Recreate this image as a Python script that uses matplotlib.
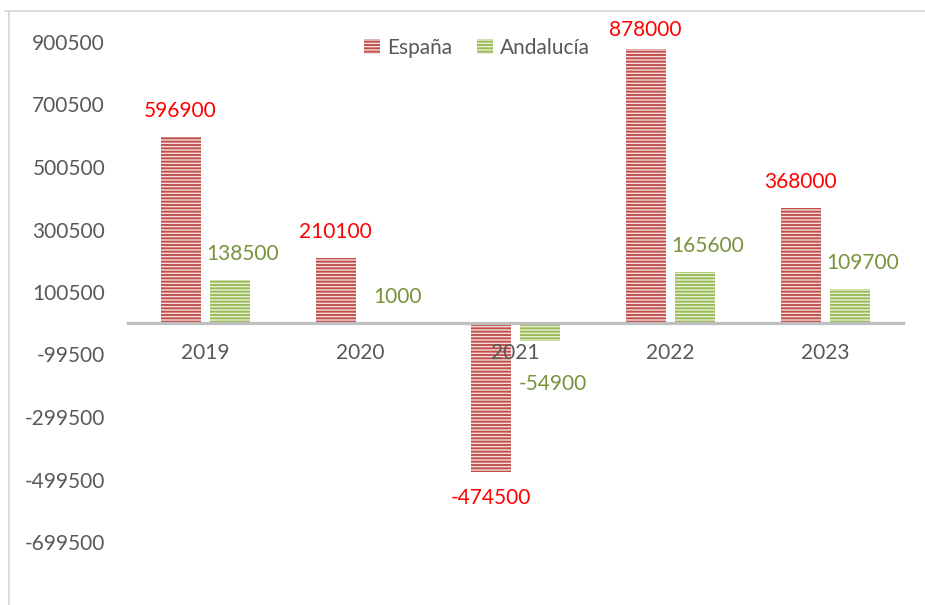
import numpy as np
import matplotlib
matplotlib.use("Agg")
import matplotlib.pyplot as plt
from matplotlib.lines import Line2D

plt.rcParams["font.family"] = ["Lato", "DejaVu Sans"]
plt.rcParams["hatch.linewidth"] = 1.4

# %% Data

years = ["2019", "2020", "2021", "2022", "2023"]
espana = [596900, 210100, -474500, 878000, 368000]
andalucia = [138500, 1000, -54900, 165600, 109700]
yticks = [900500, 700500, 500500, 300500, 100500, -99500, -299500, -499500, -699500]

# %% Plot

W, H = 925, 605
fig = plt.figure(figsize=(W / 100, H / 100), dpi=100)
ax = fig.add_axes([128 / W, 0.5 / H, (903 - 128) / W, (604.5 - 42) / H])

x = np.arange(len(years))
bw = 0.258
off = 0.161

b1 = ax.bar(x - off, espana, bw, facecolor="#F6DCDB", edgecolor="#C0504D",
            hatch="-----", linewidth=0, label="España", zorder=1)
b2 = ax.bar(x + off, andalucia, bw, facecolor="#E6EFD3", edgecolor="#9BBB59",
            hatch="-----", linewidth=0, label="Andalucía", zorder=1)

ax.set_xlim(-0.5, len(years) - 0.5)
ax.set_ylim(-899500, 900500)

# pixels per data unit, used to keep the top label inside the frame
ppu = (604.5 - 42) / (900500 + 899500)

for i in range(len(years)):
    v = espana[i]
    if v >= 0:
        dy = min(26, (900500 - v) * ppu + 12)
    else:
        dy = -26
    ax.annotate(f"{v}", (x[i] - off, v), xytext=(0, dy), textcoords="offset pixels",
                ha="center", va="center", color="#FF0000", fontsize=15)
    v = andalucia[i]
    dy = 26 if v >= 0 else -43
    ax.annotate(f"{v}", (x[i] + off, v), xytext=(12, dy), textcoords="offset pixels",
                ha="center", va="center", color="#77933C", fontsize=15)

ax.set_yticks(yticks)
ax.set_yticklabels([str(t) for t in yticks])
ax.set_xticks(x)
ax.set_xticklabels(years)

for s in ["top", "right", "left"]:
    ax.spines[s].set_visible(False)
ax.spines["bottom"].set_position(("data", 0))
ax.spines["bottom"].set_color("#BFBFBF")
ax.spines["bottom"].set_linewidth(2.3)
ax.spines["bottom"].set_zorder(3)

ax.tick_params(axis="y", length=0, pad=16.5, labelsize=15, labelcolor="#595959")
ax.tick_params(axis="x", length=0, pad=14, labelsize=15, labelcolor="#595959")

leg = fig.legend(handles=[b1, b2], loc="center", bbox_to_anchor=(477 / W, 1 - 48 / H),
                 ncol=2, frameon=False, fontsize=15, labelcolor="#595959",
                 handlelength=0.75, handleheight=0.75, handletextpad=0.35, columnspacing=1.2)

# chart frame (left and top edges)
fig.add_artist(Line2D([9 / W, 9 / W], [0, 1 - 11 / H], transform=fig.transFigure,
                      color="#D9D9D9", lw=1.3))
fig.add_artist(Line2D([5 / W, 1], [1 - 11 / H, 1 - 11 / H], transform=fig.transFigure,
                      color="#D9D9D9", lw=1.3))

plt.savefig("out.png", dpi=100)
plt.close()
